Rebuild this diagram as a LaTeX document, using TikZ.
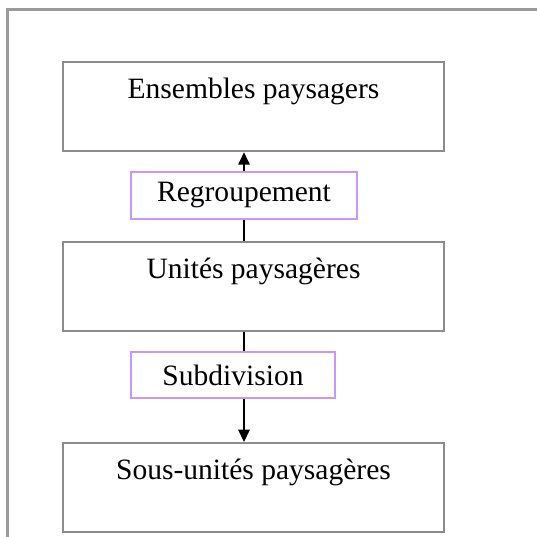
\documentclass[tikz,border=0pt]{standalone}
\usepackage{fontspec}
\setmainfont{Liberation Serif}
\usepackage{tikz}
\usetikzlibrary{arrows.meta}

\definecolor{framegray}{RGB}{155,155,155}
\definecolor{boxgray}{RGB}{140,140,140}
\definecolor{lilac}{RGB}{200,150,255}

\begin{document}
\begin{tikzpicture}
            [font=\fontsize{16.8}{20}\selectfont,
             level/.style={draw=boxgray,line width=1.3pt,rectangle,anchor=north,inner sep=0pt,
                           minimum width=7.62cm,minimum height=1.78cm,text height=0.72cm,text depth=1.04cm},
             action/.style={draw=lilac,line width=0.9pt,rectangle,inner sep=0pt,minimum height=0.93cm},
             link/.style={line width=0.8pt},
             up/.style={link,-{Triangle[length=7pt,width=6.5pt]}}]
            \useasboundingbox[fill=white] (0,0) rectangle (10.74,-10.74);
            \draw[framegray,line width=1.3pt] (0.15,-10.8) -- (0.15,-0.19) -- (10.8,-0.19);

            \node[level] (ensembles) at (5.07,-1.22) {Ensembles paysagers};
            \node[level] (unites) at (5.07,-4.82) {Unités paysagères};
            \node[level] (sousunites) at (5.07,-8.84) {Sous-unités paysagères};
            \node[action,minimum width=4.52cm] (regroup) at (4.88,-3.91) {Regroupement};
            \node[action,minimum width=4.08cm] (subdiv) at (4.66,-7.5) {Subdivision};

            \draw[link] (unites.north -| regroup.south) -- (regroup.south);
            \draw[up] (regroup.north) -- (ensembles.south -| regroup.north);
            \draw[link] (unites.south -| regroup.south) -- (subdiv.north -| regroup.south);
            \draw[up] (subdiv.south -| regroup.south) -- (sousunites.north -| regroup.south);

        \end{tikzpicture}
\end{document}
